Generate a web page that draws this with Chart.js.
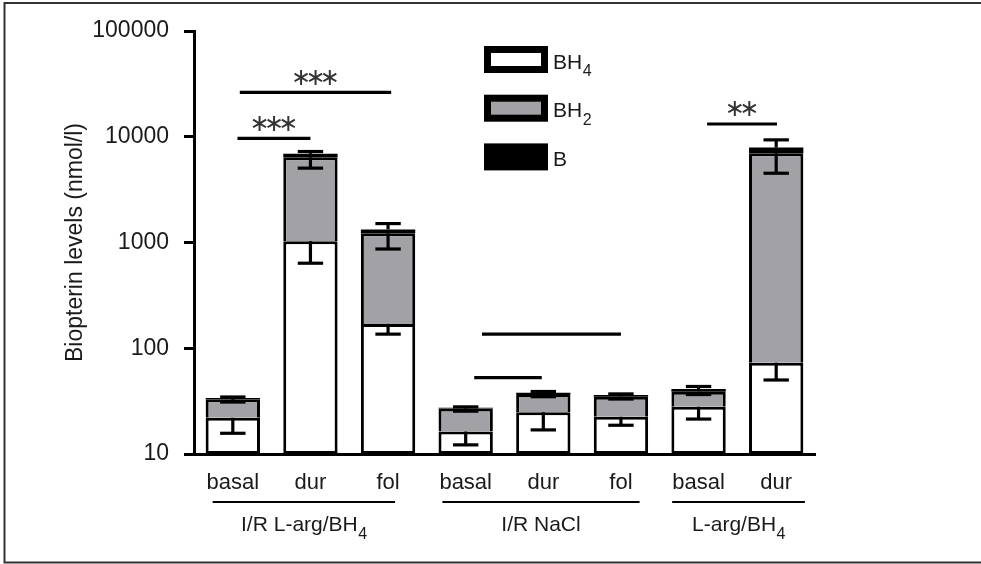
<!DOCTYPE html>
<html><head><meta charset="utf-8">
<script src="https://cdn.jsdelivr.net/npm/chart.js@4.4.1/dist/chart.umd.min.js"></script>
<style>html,body{margin:0;padding:0;background:#fff;} canvas{display:block;}</style>
</head><body>
<canvas id="c" width="981" height="564"></canvas>
<script>
// ---- data ----
const categories = ['basal','dur','fol','basal','dur','fol','basal','dur'];
const groupNames = ['I/R L-arg/BH4','I/R NaCl','L-arg/BH4'];
const groupFrom = [-0.26, 2.70, 5.66];
const groupTo   = [2.09, 5.24, 7.37];
const seriesNames = ['BH4','BH2','B'];
const bh4 = [22, 1030, 170, 16.3, 24.8, 22.5, 28, 73];
const bh2 = [11, 5370, 1050, 10.7, 12.2, 12.3, 10.8, 6900];
const b   = [0.8, 490, 110, 0.4, 1.0, 1.4, 2.4, 920];
const bh4Err = [6.3, 393, 34, 4.1, 7.9, 3.8, 6.6, 22.9];
const bh2Err = [2.0, 1350, 352, 1.6, 2.2, 1.7, 2.3, 2455];
const bErr   = [0.8, 360, 180, 0.5, 1.0, 0.8, 2.3, 1450];
const yTicks = [10, 100, 1000, 10000, 100000];
const sigFrom  = [0.09, 0.06, 3.21, 3.11, 6.11];
const sigTo    = [2.04, 1.00, 5.00, 3.98, 7.01];
const sigLevel = [26300, 9670, 136, 52.7, 13200];
const sigStars = ['***', '***', '', '', '**'];

// ---- styles ----
const FONT = '"Liberation Sans", Arial, Helvetica, sans-serif';
const TEXT = '#1a1a1a';
const GRAY = '#a2a1a6';
const fills = ['#ffffff', GRAY, '#000000'];

function drawSubText(ctx, text, x, y, size, align) {
  const m = text.match(/^(.*BH)(\d)$/);
  const main = m ? m[1] : text, sub = m ? m[2] : '';
  const subSize = Math.round(size * 0.78);
  ctx.font = size + 'px ' + FONT;
  const wMain = ctx.measureText(main).width;
  ctx.font = subSize + 'px ' + FONT;
  const wSub = sub ? ctx.measureText(sub).width : 0;
  const x0 = align === 'center' ? x - (wMain + wSub) / 2 : x;
  ctx.textAlign = 'left';
  ctx.textBaseline = 'alphabetic';
  ctx.fillStyle = TEXT;
  ctx.font = size + 'px ' + FONT;
  ctx.fillText(main, x0, y);
  if (sub) {
    ctx.font = subSize + 'px ' + FONT;
    ctx.fillText(sub, x0 + wMain + 0.5, y + size * 0.36);
  }
}

const annot = {
  id: 'annot',
  beforeDraw(chart) {
    const ctx = chart.ctx;
    ctx.save(); ctx.fillStyle = '#fff'; ctx.fillRect(0, 0, chart.width, chart.height); ctx.restore();
  },
  afterDatasetsDraw(chart) {
    const ctx = chart.ctx, xs = chart.scales.x, ys = chart.scales.y;
    ctx.save();
    ctx.strokeStyle = '#000';
    ctx.lineWidth = 3.2;
    ctx.lineCap = 'butt';
    const cap = 12.7;
    function eb(x, from, to) {
      const y1 = ys.getPixelForValue(from), y2 = ys.getPixelForValue(to);
      ctx.beginPath(); ctx.moveTo(x, y1); ctx.lineTo(x, y2); ctx.stroke();
      ctx.beginPath(); ctx.moveTo(x - cap, y2); ctx.lineTo(x + cap, y2); ctx.stroke();
    }
    for (let i = 0; i < categories.length; i++) {
      const x = xs.getPixelForValue(i);
      const t1 = bh4[i], t2 = bh4[i] + bh2[i], t3 = t2 + b[i];
      eb(x, t1, t1 - bh4Err[i]);
      eb(x, t2, t2 - bh2Err[i]);
      eb(x, t3, t3 + bErr[i]);
    }
    ctx.restore();
  },
  afterDraw(chart) {
    const ctx = chart.ctx, xs = chart.scales.x, ys = chart.scales.y, ca = chart.chartArea;
    ctx.save();
    // significance lines
    ctx.strokeStyle = '#000';
    ctx.lineWidth = 3.2;
    for (let k = 0; k < sigFrom.length; k++) {
      const x1 = xs.getPixelForValue(sigFrom[k]), x2 = xs.getPixelForValue(sigTo[k]);
      const y = ys.getPixelForValue(sigLevel[k]);
      ctx.beginPath(); ctx.moveTo(x1, y); ctx.lineTo(x2, y); ctx.stroke();
      const n = sigStars[k].length;
      if (n) {
        const cx = (x1 + x2) / 2;
        ctx.fillStyle = '#333';
        ctx.font = '24px "DejaVu Sans", sans-serif';
        ctx.textAlign = 'center';
        ctx.textBaseline = 'middle';
        for (let s = 0; s < n; s++) {
          ctx.fillText('\u2217', cx + (s - (n - 1) / 2) * 14.4, y - 14);
        }
      }
    }
    // group lines and labels
    ctx.lineWidth = 2;
    for (let g = 0; g < groupNames.length; g++) {
      const x1 = xs.getPixelForValue(groupFrom[g]), x2 = xs.getPixelForValue(groupTo[g]);
      const y = ca.bottom + 48;
      ctx.beginPath(); ctx.moveTo(x1, y); ctx.lineTo(x2, y); ctx.stroke();
      drawSubText(ctx, groupNames[g], (x1 + x2) / 2, ca.bottom + 77, 21, 'center');
    }
    // legend
    const lx = ca.left + 290, ly = ca.top + 15, bw = 64, bh = 27, gap = 48.7, bord = 7;
    for (let k = 0; k < seriesNames.length; k++) {
      const top = ly + k * gap;
      ctx.fillStyle = '#000';
      ctx.fillRect(lx, top, bw, bh);
      if (k < 2) {
        ctx.fillStyle = fills[k];
        ctx.fillRect(lx + bord, top + bord, bw - 2 * bord, bh - 2 * bord);
      }
      drawSubText(ctx, seriesNames[k], lx + bw + 5, top + bh / 2 + 9, 21, 'left');
    }
    // outer frame
    ctx.strokeStyle = '#333';
    ctx.lineWidth = 2;
    ctx.beginPath();
    ctx.moveTo(chart.width + 2, 3); ctx.lineTo(4.5, 3); ctx.lineTo(4.5, 562.5); ctx.lineTo(chart.width + 2, 562.5);
    ctx.stroke();
    ctx.restore();
  }
};

const ds = (label, data, i, extra) => Object.assign({
  label, data, backgroundColor: fills[i], borderColor: '#000', borderWidth: 3,
  stack: 's', barPercentage: 0.7, categoryPercentage: 1.0
}, extra);

new Chart(document.getElementById('c'), {
  type: 'bar',
  data: {
    labels: categories,
    datasets: [
      ds(seriesNames[0], bh4, 0, { borderSkipped: false }),
      ds(seriesNames[1], bh2, 1, { borderSkipped: 'bottom' }),
      ds(seriesNames[2], b, 2, { borderWidth: 0 })
    ]
  },
  options: {
    responsive: false,
    devicePixelRatio: 1,
    animation: false,
    layout: { padding: { top: 31, right: 166, bottom: 0, left: 0 } },
    plugins: { legend: { display: false }, tooltip: { enabled: false } },
    scales: {
      x: {
        stacked: true,
        grid: { display: false, drawTicks: false },
        border: { display: true, color: '#000', width: 3 },
        ticks: { color: TEXT, font: { family: FONT, size: 22 }, padding: 16, maxRotation: 0, autoSkip: false },
        afterFit: s => { s.height = 110; }
      },
      y: {
        type: 'logarithmic',
        stacked: true,
        min: 10, max: 100000,
        grid: { display: true, drawOnChartArea: false, drawTicks: true, tickLength: 10, lineWidth: 3, color: '#000' },
        border: { display: true, color: '#000', width: 3 },
        ticks: { color: TEXT, font: { family: FONT, size: 23 }, padding: 15, callback: v => String(v) },
        afterBuildTicks: s => { s.ticks = yTicks.map(v => ({ value: v })); },
        title: { display: true, text: 'Biopterin levels (nmol/l)', color: TEXT, font: { family: FONT, size: 23 }, padding: { top: 62, bottom: 0 } },
        afterFit: s => { s.width = 194; }
      }
    }
  },
  plugins: [annot]
});
</script>
</body></html>
